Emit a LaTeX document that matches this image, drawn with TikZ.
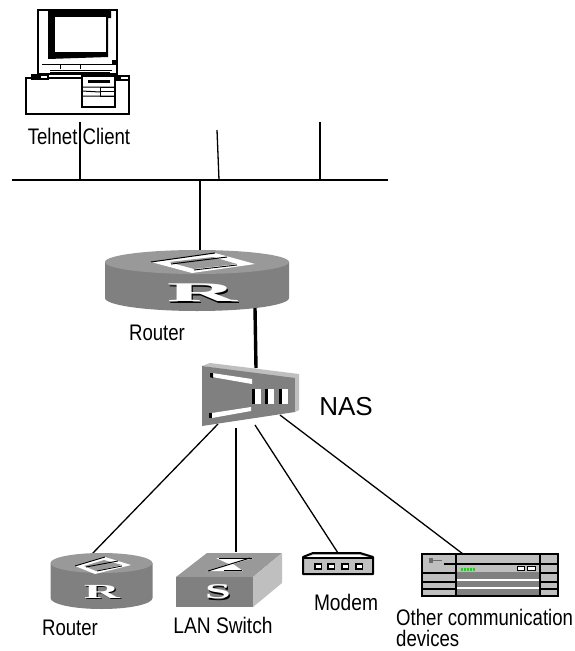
\documentclass[tikz,border=0pt]{standalone}
\usepackage{fontspec}
\setmainfont{Liberation Sans}
\newfontfamily\rfont{Liberation Serif}
\definecolor{gA}{gray}{0.50}
\definecolor{gB}{gray}{0.60}
\definecolor{gC}{gray}{0.75}
\definecolor{gD}{gray}{0.42}
\newcommand{\lab}[2][.827]{\scalebox{#1}[1]{#2}}
\newcommand{\shadowlet}[5]{% x y size xscale letter
  \node[text=black,inner sep=0pt,font=\rfont\bfseries\fontsize{#3}{#3}\selectfont] at (#1+1.2,#2+1.2) {\scalebox{#4}[1]{#5}};
  \node[text=white,inner sep=0pt,font=\rfont\bfseries\fontsize{#3}{#3}\selectfont] at (#1,#2) {\scalebox{#4}[1]{#5}};}
\newcommand{\routershape}[5]{% cx topcy botcy rx ry
  \fill[gA] (#1-#4,#2) -- (#1-#4,#3) arc[start angle=180,end angle=0,x radius=#4,y radius=#5+1] -- (#1+#4,#2) -- cycle;
  \fill[gB] (#1,#2) ellipse[x radius=#4,y radius=#5];
}
\tikzset{
  lbl/.style={font=\fontsize{22.5}{24}\selectfont,inner sep=0pt,text=black},
  wire/.style={line width=1.3pt,black},
  thin frame/.style={line width=1.2pt,draw=black},
}
\begin{document}
\begin{tikzpicture}[x=1pt,y=-1pt]
\useasboundingbox (0,0) rectangle (574,651);
\fill[white] (0,0) rectangle (574,651);
% ---------- connection anchors
\coordinate (busL) at (12,180);
\coordinate (busR) at (388,180);
\coordinate (pcfoot) at (80,122);
\coordinate (pcbus) at (80,180);
\coordinate (stubA) at (217,130);
\coordinate (stubAb) at (219,180);
\coordinate (stubB) at (320,122);
\coordinate (stubBb) at (320,180);
\coordinate (rtrbus) at (200,180);
\coordinate (rtrtop) at (200,251);
\coordinate (rtrbot) at (255,308);
\coordinate (nastop) at (256,368);
\coordinate (nasA) at (218,424);
\coordinate (nasB) at (236,428);
\coordinate (nasC) at (255,425);
\coordinate (nasD) at (280,415);
\coordinate (r2top) at (92,554);
\coordinate (swtop) at (236,552);
\coordinate (mdtop) at (338,553);
\coordinate (ottop) at (463,554);
% ---------- PC
\draw[thin frame,fill=white] (38,10) rectangle (117,74);
\fill[black] (48,10) -- (111,10) -- (111,18) -- (108,18) -- (108,57) -- (48,59) -- cycle;
\fill[white] (55,17) rectangle (106,52);
\draw[line width=1pt] (42,64) -- (118,64) (50,70) -- (112,70) (50,72) -- (110,72);
\draw[line width=.8pt] (60,64) -- (60,69) (80,64) -- (80,69);
\fill[black] (112,60) rectangle (117,65);
\draw[thin frame,fill=white] (26,78) rectangle (129,114);
\draw[thin frame,fill=white] (32,75) rectangle (48,79);
\fill[black] (32,76) rectangle (41,79);
\draw[thin frame,fill=white] (117,76) rectangle (129,80);
\fill[black] (117,76) rectangle (121,80);
\draw[thin frame,fill=white] (82,76) rectangle (115,107);
\fill[black] (88,80) rectangle (110,83);
\draw[line width=1pt] (82,87) -- (115,87) (82,91) -- (100,92) (82,96) -- (115,96);
\draw[line width=1pt] (100,87) rectangle (115,96);
\draw[line width=1pt] (100,91) -- (115,91);
% ---------- bus and wires
\draw[wire] (busL) -- (busR);
\draw[wire] (pcfoot) -- (pcbus);
\draw[wire] (stubA) -- (stubAb);
\draw[wire] (stubB) -- (stubBb);
\draw[wire] (rtrbus) -- (rtrtop);
% ---------- big router
\routershape{197}{262}{298}{92}{12}
\fill[white] (151,262) -- (215,253) -- (255,264) -- (192,273) -- cycle;
\fill[gB] (169,262) -- (213,257) -- (237,264) -- (194,269) -- cycle;
\draw[line width=1pt] (151,262) -- (215,253);
\draw[line width=1pt] (171,264) -- (227,257);
\draw[line width=.9pt] (194,270) -- (237,265);
\shadowlet{202}{293}{27}{3.6}{R}
% ---------- NAS
\draw[line width=3.4pt] (rtrbot) -- (nastop);
\fill[gC] (202,366) -- (210,363) -- (299,374) -- (295,379) -- cycle;
\fill[gA] (202,366) -- (295,378) -- (295,412) -- (202,426) -- cycle;
\fill[gC] (295,378) -- (299,374) -- (299,410) -- (295,412) -- cycle;
\fill[white] (212,373) -- (252,379) -- (252,384) -- (212,377) -- cycle;
\fill[black] (210,373) -- (213,373) -- (213,378) -- (210,377) -- cycle;
\fill[white] (212,413) -- (251,407) -- (251,411) -- (212,418) -- cycle;
\fill[black] (209,413) -- (212,413) -- (212,418) -- (209,418) -- cycle;
\foreach \xx in {252,265,279}{
  \fill[black] (\xx,389) rectangle (\xx+3,404);
  \fill[white] (\xx+3,389) rectangle (\xx+9,404);
}
% ---------- lower wires
\draw[wire] (nasA) -- (r2top);
\draw[wire] (nasB) -- (swtop);
\draw[wire] (nasC) -- (mdtop);
\draw[wire] (nasD) -- (ottop);
% ---------- small router
\routershape{101.5}{563}{598}{51}{10}
\fill[white] (75,566) -- (105,557) -- (131,565) -- (95,574) -- cycle;
\fill[gB] (84,566) -- (104,560) -- (122,565) -- (96,571) -- cycle;
\draw[line width=.9pt] (75,566) -- (105,557);
\draw[line width=.9pt] (86,567) -- (118,561);
\draw[line width=.8pt] (97,571) -- (122,566);
\shadowlet{102}{592}{20}{2.5}{R}
% ---------- switch
\fill[gB] (176,577) -- (207,553) -- (282,553) -- (253,577) -- cycle;
\fill[gA] (176,577) rectangle (253,607);
\fill[gC] (253,577) -- (282,553) -- (282,583) -- (253,607) -- cycle;
\fill[white] (216,558) -- (253,558) -- (243,561) -- (233,564) -- (243,571) -- (207,571) -- (229,564) -- cycle;
\draw[line width=1pt] (208,571) -- (250,558);
\draw[line width=1pt] (219,558) -- (252,558);
\draw[line width=.8pt] (224,570) -- (242,570);
\shadowlet{218}{592}{21}{2.2}{S}
% ---------- modem
\fill[gC] (303,557) -- (313,553) -- (360,553) -- (373,557) -- (373,574) -- (303,574) -- cycle;
\fill[white] (305,557) -- (314,555) -- (359,555) -- (371,557.5) -- cycle;
\draw[line width=2pt,line join=round] (303,557) -- (313,553) -- (360,553) -- (373,557) -- (373,574) -- (303,574) -- cycle;
\draw[line width=1.2pt] (303,558) -- (373,558);
\foreach \xx in {318,331,345,359}{
  \fill[black] (\xx-4,563) rectangle (\xx+4,570);
  \fill[white] (\xx-2.5,564.5) rectangle (\xx+2.5,568);
}
% ---------- other devices
\fill[gC] (422,554) rectangle (558,596);
\fill[gC] (456,556) rectangle (540,564);
\fill[gA] (456,572) rectangle (540,595);
\fill[white] (456,579) rectangle (540,580.5);
\fill[white] (456,587) rectangle (540,588.5);
\draw[line width=1.2pt] (422,554) -- (558,554) -- (558,596) -- (422,596) -- cycle;
\draw[line width=1.6pt] (456,554) -- (456,596) (540,554) -- (540,596);
\draw[line width=1.2pt] (444,564) -- (540,564) (422,573) -- (456,573) (422,582) -- (456,582) (422,589) -- (456,589);
\draw[line width=1.2pt] (540,564) -- (558,564) (540,573) -- (558,573) (540,582) -- (558,582) (540,589) -- (558,589);
\fill[gD] (429,558) rectangle (433,563);
\fill[gD] (433,560) rectangle (442,561);
\foreach \xx in {462,465,468,471,474}{\fill[green!90!black] (\xx-1,568.4) rectangle (\xx+1,570.6);}
\fill[white] (517,566.5) rectangle (524,570);
\fill[white] (527,566.5) rectangle (535,570);
\draw[line width=.5pt] (517,566.5) rectangle (524,570) (527,566.5) rectangle (535,570);
% ---------- labels
\node[lbl] (telnetlab) at (79,136) {\lab{Telnet Client}};
\node[lbl] (rtrlab) at (157,333) {\lab{Router}};
\node[lbl,font=\fontsize{26}{28}\selectfont] (naslab) at (346,407) {NAS};
\node[lbl] (r2lab) at (70,628) {\lab{Router}};
\node[lbl] (swlab) at (223,625) {\lab[.853]{LAN Switch}};
\node[lbl] (mdlab) at (346,602) {\lab[.853]{Modem}};
\node[lbl,anchor=west] (otlab) at (396,617) {\lab{Other communication}};
\node[lbl,anchor=west] (devlab) at (396,638) {\lab{devices}};
\end{tikzpicture}
\end{document}
